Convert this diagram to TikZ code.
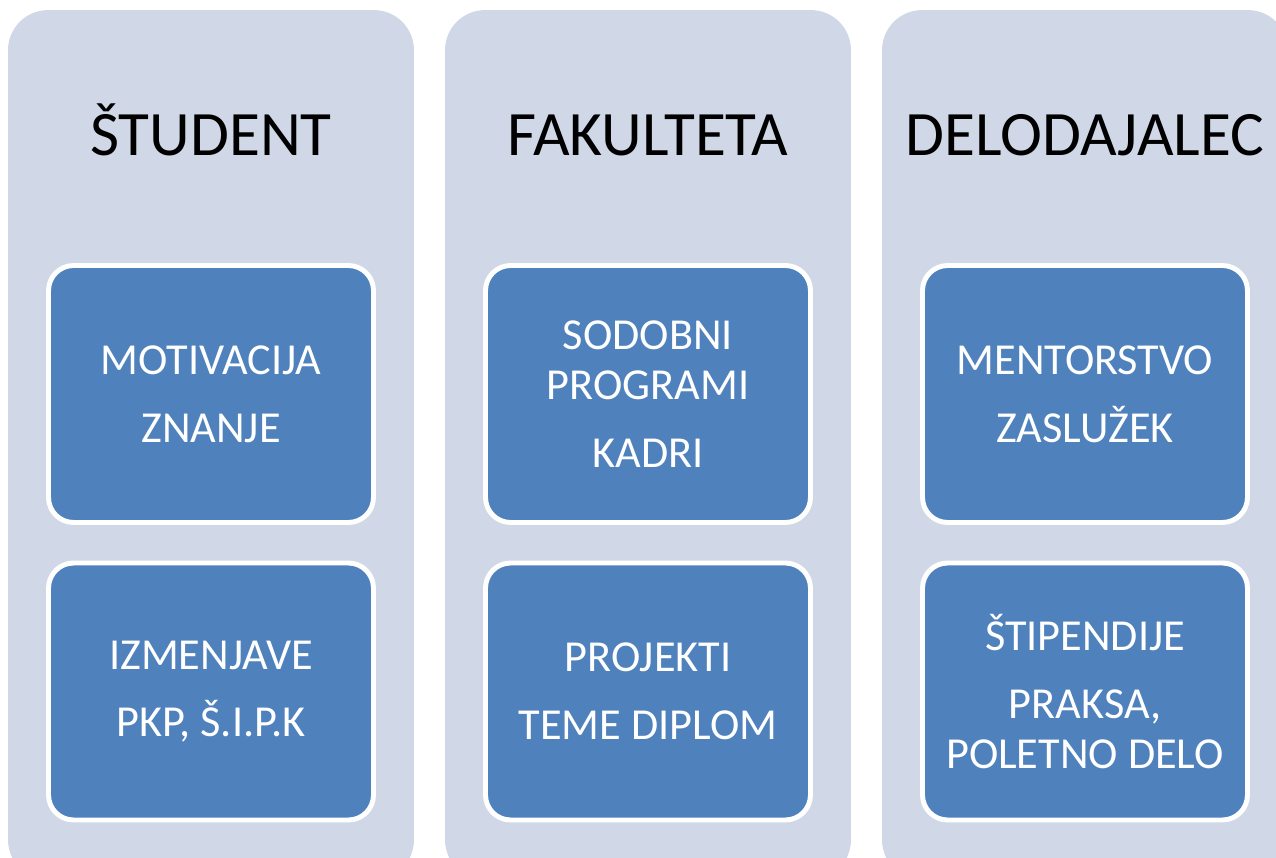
\documentclass[tikz,border=0pt]{standalone}
\usepackage{fontspec}
\setmainfont{Carlito}
\definecolor{colgray}{HTML}{D0D8E8}
\definecolor{itemblue}{HTML}{4F81BD}

\begin{document}
\begin{tikzpicture}[
  x=0.02cm, y=-0.02cm,
  colbox/.style={fill=colgray,rounded corners=0.8cm,minimum width=8.12cm,minimum height=17.4cm,inner sep=0pt},
  itembox/.style={draw=white,line width=2.8pt,fill=itemblue,rounded corners=0.5cm,
    minimum width=6.5cm,minimum height=5.14cm,text=white,align=center,
    font=\fontsize{25.2}{28.5}\selectfont},
  headtext/.style={anchor=base,font=\fontsize{36}{44}\selectfont}
]
  \useasboundingbox (0,0) rectangle (1276,858);
  \clip (0,0) rectangle (1276,858);

  % columns
  \node[colbox] (colS) at (211,445) {};
  \node[colbox] (colF) at (648,445) {};
  \node[colbox] (colD) at (1085,445) {};

  % headings
  \node[headtext] (student) at (211,156) {ŠTUDENT};
  \node[headtext] (fakulteta) at (648,156) {FAKULTETA};
  \node[headtext] (delodajalec) at (1085,156) {DELODAJALEC};

  % items
  \node[itembox] (s1) at (211,394) {MOTIVACIJA\\[10pt]ZNANJE};
  \node[itembox] (s2) at (211,691.5) {IZMENJAVE\\[10pt]PKP, Š.I.P.K};
  \node[itembox] (f1) at (648,394) {SODOBNI\\PROGRAMI\\[10pt]KADRI};
  \node[itembox] (f2) at (648,691.5) {PROJEKTI\\[10pt]TEME DIPLOM};
  \node[itembox] (d1) at (1085,394) {MENTORSTVO\\[10pt]ZASLUŽEK};
  \node[itembox] (d2) at (1085,691.5) {ŠTIPENDIJE\\[10pt]PRAKSA,\\POLETNO DELO};

\end{tikzpicture}
\end{document}
